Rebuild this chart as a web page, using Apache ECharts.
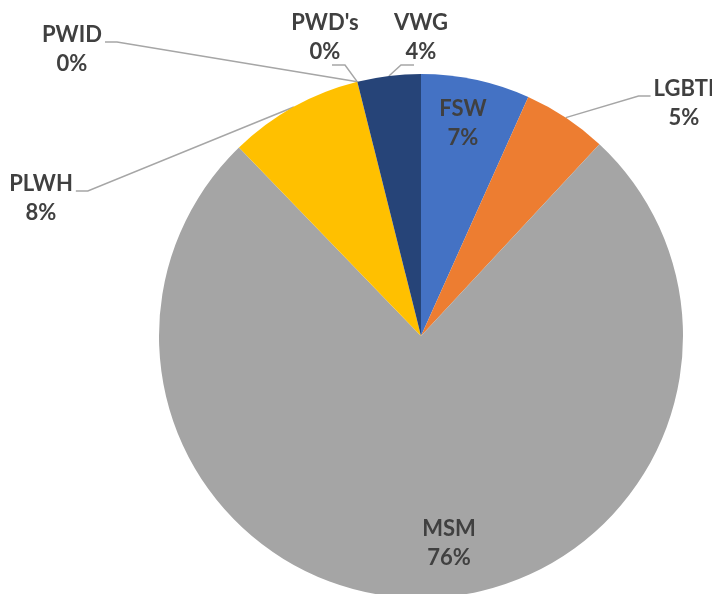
<!DOCTYPE html>
<html>
<head>
<meta charset="utf-8">
<script src="https://cdn.jsdelivr.net/npm/echarts@6/dist/echarts.min.js"></script>
<style>
  html, body { margin: 0; padding: 0; background: #fff; }
  #pie-1 { width: 712px; height: 594px; }
</style>
</head>
<body>
<div id="pie-1"></div>
<script>
// groups, clockwise from 12 o'clock
var groups = ['FSW', 'LGBTI', 'MSM', 'PLWH', 'PWID', "PWD's", 'VWG'];
var shares = [6.7, 5.2, 75.7, 8.3, 0, 0, 3.9];
var colors = ['#4472C4', '#ED7D31', '#A5A5A5', '#FFC000', '#5B9BD5', '#70AD47', '#264478'];
var insideGroups = ['FSW', 'MSM'];

// where each label sits (centre of the text block)
var labelSpots = {
    'FSW': [463, 123],
    'LGBTI': [684, 103],
    'MSM': [449, 543],
    'PLWH': [41, 198],
    'PWID': [72, 49],
    "PWD's": [325, 37],
    'VWG': [421, 37]
};
// which side of the label the leader line joins
var leaderSide = { 'LGBTI': 'left', 'PLWH': 'right', 'PWID': 'right', "PWD's": 'bottom', 'VWG': 'bottom' };

var chart = echarts.init(document.getElementById('pie-1'));

var data = groups.map(function (g, i) {
    var inside = insideGroups.indexOf(g) >= 0;
    return {
        name: g,
        value: shares[i],
        itemStyle: { color: colors[i] },
        label: { position: inside ? 'inside' : 'outside' },
        labelLine: { show: !inside }
    };
});

var option = {
    animation: false,
    series: [
        {
            type: 'pie',
            center: [421, 336],
            radius: 262,
            startAngle: 90,
            clockwise: true,
            avoidLabelOverlap: false,
            silent: true,
            label: {
                show: true,
                color: '#404040',
                fontFamily: 'Lato',
                fontWeight: 'bold',
                fontSize: 22,
                lineHeight: 29,
                formatter: function (p) {
                    return p.name + '\n' + Math.round(p.percent) + '%';
                }
            },
            labelLine: {
                lineStyle: { color: '#A6A6A6', width: 1.5 }
            },
            labelLayout: function (params) {
                var name = groups[params.dataIndex];
                var spot = labelSpots[name];
                var w = params.labelRect.width, h = params.labelRect.height;
                var out = { x: spot[0], y: spot[1], align: 'center', verticalAlign: 'middle' };
                var side = leaderSide[name];
                if (side && params.labelLinePoints) {
                    var start = params.labelLinePoints[0];
                    var end, elbow;
                    if (side === 'right') {
                        end = [spot[0] + w / 2 + 3, spot[1] - 7];
                        elbow = [end[0] + 12, end[1]];
                    } else if (side === 'left') {
                        end = [spot[0] - w / 2 - 3, spot[1] - 7];
                        elbow = [end[0] - 12, end[1]];
                    } else {
                        var dir = start[0] > spot[0] ? 1 : -1;
                        end = [spot[0] + dir * 7, spot[1] + h / 2 - 1];
                        elbow = [end[0] + dir * 13, end[1]];
                    }
                    out.labelLinePoints = [start, elbow, end];
                }
                return out;
            },
            data: data
        }
    ]
};

chart.setOption(option);
</script>
</body>
</html>
